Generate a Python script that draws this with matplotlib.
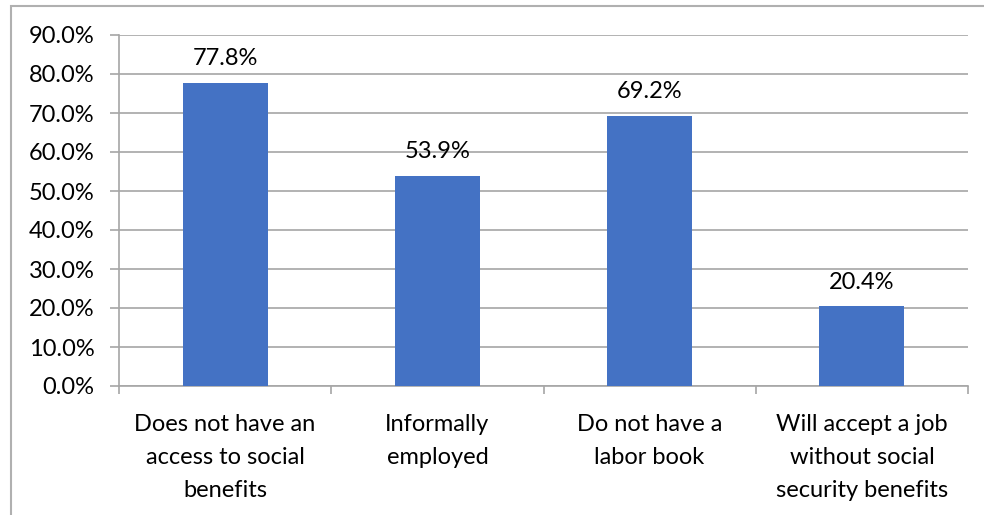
import matplotlib
matplotlib.use("Agg")
import matplotlib.pyplot as plt
from matplotlib.patches import Rectangle
from matplotlib.ticker import FuncFormatter, FixedLocator
import numpy as np

categories = ["Does not have an\naccess to social\nbenefits",
              "Informally\nemployed",
              "Do not have a\nlabor book",
              "Will accept a job\nwithout social\nsecurity benefits"]
values = [77.8, 53.9, 69.2, 20.4]
yticks = [0, 10, 20, 30, 40, 50, 60, 70, 80, 90]

W, H = 984, 515
fig = plt.figure(figsize=(W / 100, H / 100), dpi=100)
plt.rcParams['font.family'] = ['Lato', 'DejaVu Sans']

grid_c = '#A6A6A6'
bar_c = '#4472C4'
fs = 17

ax = fig.add_axes([119 / W, (H - 386) / H, (968 - 119) / W, (386 - 35) / H])
x = np.arange(len(categories))
ax.bar(x, values, width=0.4, color=bar_c, zorder=3)
ax.set_xlim(-0.5, len(categories) - 0.5)
ax.set_ylim(0, 90)
ax.set_yticks(yticks)
ax.yaxis.set_major_formatter(FuncFormatter(lambda v, p: f"{v:.1f}%"))
ax.grid(axis='y', color=grid_c, linewidth=1.2, zorder=0)
ax.set_axisbelow(True)

for s in ['top', 'right']:
    ax.spines[s].set_visible(False)
for s in ['left', 'bottom']:
    ax.spines[s].set_color(grid_c)
    ax.spines[s].set_linewidth(1.2)

ax.tick_params(axis='y', length=6.5, color=grid_c, width=1.2, labelsize=fs, pad=11, labelcolor='black')
ax.set_xticks(x)
ax.set_xticklabels(categories, fontsize=fs, linespacing=1.72)
ax.tick_params(axis='x', which='major', length=0, pad=20)
ax.xaxis.set_minor_locator(FixedLocator(np.arange(-0.5, len(categories), 1.0)))
ax.tick_params(axis='x', which='minor', length=5.5, color=grid_c, width=1.2)

for xi, v in zip(x, values):
    ax.annotate(f"{v:.1f}%", (xi, v), xytext=(0, 10), textcoords='offset points',
                ha='center', va='bottom', fontsize=fs)

fig.patches.append(Rectangle((11 / W, -0.1), 1.2, (H - 6) / H + 0.1, transform=fig.transFigure,
                             fill=False, edgecolor='#B0B0B0', linewidth=1.5))

fig.savefig("out.png", dpi=100)
